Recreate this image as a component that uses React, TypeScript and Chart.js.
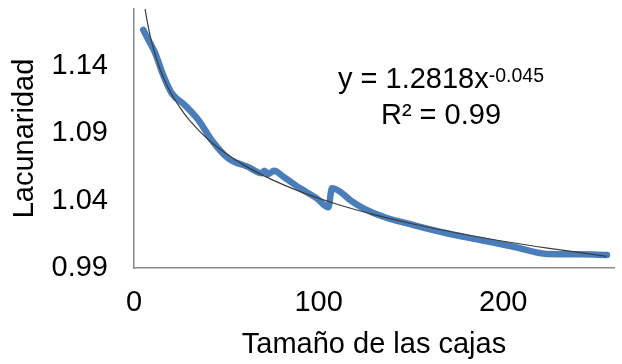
import React, { useEffect, useRef } from "react";
import { Chart, registerables } from "chart.js";

Chart.register(...registerables);

// Measured series (box size vs lacunarity)
const boxSizes = [5, 8, 11.4, 15.9, 20.4, 27.6, 34.9, 42.1, 51.1, 62, 69.2, 70.5, 72.8, 75.9, 80.9, 90, 99, 105.3, 107.2, 111.7, 117.1, 124.3, 135.1, 151.4, 169.5, 187.5, 205.6, 223.7, 241.7, 256.2];
const lacunarity = [1.167, 1.159, 1.15, 1.133, 1.12, 1.111, 1.1, 1.085, 1.0715, 1.065, 1.0604, 1.0623, 1.0598, 1.0623, 1.0578, 1.0492, 1.0418, 1.0351, 1.0492, 1.0467, 1.0405, 1.0344, 1.0281, 1.0219, 1.0158, 1.0108, 1.0058, 1.0004, 1.0002, 0.9997];

// Power trendline
const trendX = [3, 4, 5, 6, 8, 10, 13, 16, 20, 25, 30, 40, 50, 60, 75, 90, 110, 130, 150, 175, 200, 225, 256];
const trendY = [1.22, 1.2043, 1.1923, 1.1825, 1.1673, 1.1556, 1.1421, 1.1314, 1.1201, 1.109, 1.0999, 1.0857, 1.0749, 1.0661, 1.0555, 1.0468, 1.0374, 1.0297, 1.0231, 1.016, 1.0099, 1.0046, 0.9987];

const xTicks = [0, 100, 200];
const yTicks = [0.99, 1.04, 1.09, 1.14];
const xTitle = "Tamaño de las cajas";
const yTitle = "Lacunaridad";
const eqMain = "y = 1.2818x";
const eqExp = "-0.045";
const r2Text = "R² = 0.99";

const FONT = '"Liberation Sans", Arial, sans-serif';
const FS = 29;

const eqPlugin = {
  id: "equationLabel",
  afterDatasetsDraw(chart: any) {
    const ctx = chart.ctx as CanvasRenderingContext2D;
    ctx.save();
    ctx.fillStyle = "#000";
    ctx.textBaseline = "alphabetic";
    ctx.textAlign = "left";
    ctx.font = `${FS}px ${FONT}`;
    const w1 = ctx.measureText(eqMain).width;
    ctx.font = `19.5px ${FONT}`;
    const w2 = ctx.measureText(eqExp).width;
    const cx = 441;
    const x0 = cx - (w1 + w2) / 2;
    ctx.font = `${FS}px ${FONT}`;
    ctx.fillText(eqMain, x0, 88);
    ctx.font = `19.5px ${FONT}`;
    ctx.fillText(eqExp, x0 + w1, 81.5);
    ctx.font = `${FS}px ${FONT}`;
    ctx.textAlign = "center";
    ctx.fillText(r2Text, cx, 124);
    ctx.restore();
  },
};

export default function App() {
  const ref = useRef<HTMLCanvasElement | null>(null);

  useEffect(() => {
    if (!ref.current) return;
    const chart = new Chart(ref.current, {
      type: "scatter",
      data: {
        datasets: [
          {
            data: trendX.map((x, i) => ({ x, y: trendY[i] })),
            showLine: true,
            borderColor: "#3c3c3c",
            borderWidth: 1.2,
            pointRadius: 0,
            cubicInterpolationMode: "monotone",
            clip: 0,
            order: 0,
          } as any,
          {
            data: boxSizes.map((x, i) => ({ x, y: lacunarity[i] })),
            showLine: true,
            borderColor: "#4A7EBB",
            borderWidth: 6.5,
            pointRadius: 0,
            cubicInterpolationMode: "monotone",
            borderCapStyle: "round",
            borderJoinStyle: "round",
            order: 1,
          } as any,
        ],
      },
      options: {
        animation: false,
        responsive: false,
        devicePixelRatio: 1,
        layout: { padding: { top: 9, right: 8, left: 0, bottom: 0 } },
        plugins: { legend: { display: false }, tooltip: { enabled: false } },
        scales: {
          x: {
            type: "linear",
            min: 0,
            max: 260,
            afterBuildTicks: (s: any) => {
              s.ticks = xTicks.map((v) => ({ value: v }));
            },
            afterFit: (s: any) => {
              s.height = 96;
              s.paddingLeft = 0;
              s.paddingRight = 0;
            },
            grid: { display: false, drawTicks: false },
            border: { display: true, color: "#8a8a8a", width: 1.5 },
            ticks: { color: "#000", font: { size: FS, family: FONT }, padding: 17.6, maxRotation: 0 },
            title: { display: true, text: xTitle, color: "#000", font: { size: FS, family: FONT }, padding: { top: 0, bottom: 1.6 } },
          },
          y: {
            type: "linear",
            min: 0.99,
            max: 1.1825,
            afterBuildTicks: (s: any) => {
              s.ticks = yTicks.map((v) => ({ value: v }));
            },
            afterFit: (s: any) => {
              s.width = 134;
              s.paddingTop = 0;
              s.paddingBottom = 0;
            },
            grid: { display: false, drawTicks: false },
            border: { display: true, color: "#8a8a8a", width: 1.5 },
            ticks: { color: "#000", font: { size: FS, family: FONT }, padding: 26, callback: (v: any) => Number(v).toFixed(2) },
            title: { display: true, text: yTitle, color: "#000", font: { size: FS, family: FONT }, padding: { top: 7.6, bottom: 0 } },
          },
        },
      },
      plugins: [eqPlugin],
    });
    return () => chart.destroy();
  }, []);

  return (
    <div style={{ position: "absolute", left: 0, top: 0, width: 622, height: 364, background: "#fff" }}>
      <canvas ref={ref} width={622} height={364} style={{ display: "block", width: 622, height: 364 }} />
    </div>
  );
}
